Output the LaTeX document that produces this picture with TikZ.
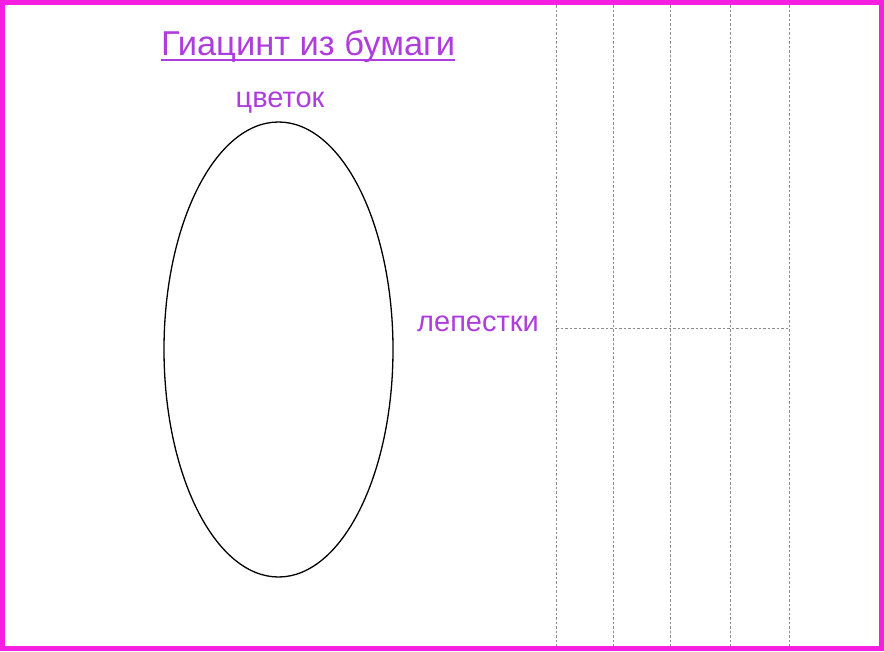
\documentclass[tikz,border=0pt]{standalone}
\usepackage{fontspec}
\setmainfont{Liberation Sans}
\usetikzlibrary{positioning}

\definecolor{framecol}{RGB}{245,30,225}
\definecolor{labelcol}{RGB}{175,60,220}
\definecolor{cutcol}{RGB}{140,140,140}

\begin{document}
\begin{tikzpicture}[x=1pt, y=-1pt,
    label text/.style={text=labelcol, inner sep=0pt, font=\fontsize{29}{34}\selectfont},
    cut line/.style={draw=cutcol, line width=1pt, dash pattern=on 2.5pt off 2pt}]

\useasboundingbox (0,0) rectangle (884,651);
\draw[framecol, line width=5pt] (2.5,2.5) rectangle (881.5,648.5);

% flower outline
\draw[line width=1.3pt] (278.5,349.5) ellipse (114.5 and 227.5);

% texts
\node[label text, font=\fontsize{34.5}{40}\selectfont, anchor=base] (title) at (308,55) {Гиацинт из бумаги};
\draw[labelcol, line width=2pt] ([yshift=-5pt]title.base west) -- ([yshift=-5pt]title.base east);
\node[label text, anchor=base] (flower) at (280,107) {цветок};
\node[label text, anchor=base] (petals) at (478,331) {лепестки};

% petal strips
\foreach \x in {556,613,670,730,789}
  \draw[cut line] (\x,5) -- (\x,646);
\draw[cut line] (556,328) -- (789,328);
\end{tikzpicture}
\end{document}
